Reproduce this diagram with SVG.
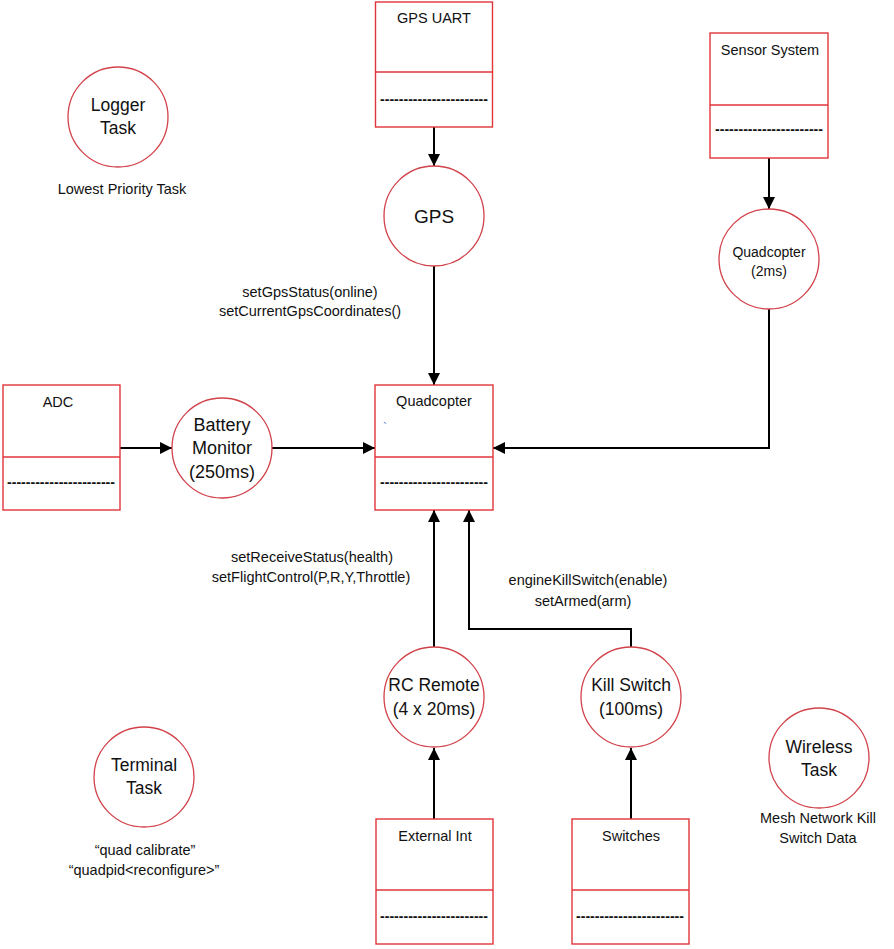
<svg xmlns="http://www.w3.org/2000/svg" width="894" height="949" viewBox="0 0 894 949">
<style>
.box{fill:#fff;stroke:#e0353a;stroke-width:1.4}
.circ{fill:#fff;stroke:#d2424a;stroke-width:1.3}
.t{font-family:"Liberation Sans",Arial,sans-serif;fill:#111;text-anchor:middle}
.bt{font-size:14.5px}
.ct{font-size:17.5px}
.lb{font-size:14.5px}
.dash{font-family:"Liberation Sans",Arial,sans-serif;font-size:15px;font-weight:bold;fill:#111}
.edge{fill:none;stroke:#000;stroke-width:2}
</style>
<defs>
<marker id="ah" markerWidth="12" markerHeight="12" viewBox="0 0 12 12" refX="12" refY="6" orient="auto" markerUnits="userSpaceOnUse">
<path d="M0,0 L12,6 L0,12 z" fill="#000"/>
</marker>
</defs>
<rect width="894" height="949" fill="#fff"/>

<g id="connectors">
<path class="edge" d="M434,127 V166" marker-end="url(#ah)"/>
<path class="edge" d="M434,266 V385" marker-end="url(#ah)"/>
<path class="edge" d="M769,158 V209" marker-end="url(#ah)"/>
<path class="edge" d="M769,309 V448 H493" marker-end="url(#ah)"/>
<path class="edge" d="M120,448 H172" marker-end="url(#ah)"/>
<path class="edge" d="M272,448 H375" marker-end="url(#ah)"/>
<path class="edge" d="M434,647 V510" marker-end="url(#ah)"/>
<path class="edge" d="M631,647 V629 H469 V510" marker-end="url(#ah)"/>
<path class="edge" d="M434,819 V748" marker-end="url(#ah)"/>
<path class="edge" d="M631,819 V748" marker-end="url(#ah)"/>
</g>

<g id="labels">
<text class="t lb" x="310" y="297">setGpsStatus(online)</text>
<text class="t lb" x="310" y="316">setCurrentGpsCoordinates()</text>
<text class="t lb" x="312" y="562">setReceiveStatus(health)</text>
<text class="t lb" x="311" y="582">setFlightControl(P,R,Y,Throttle)</text>
<text class="t lb" x="588" y="585">engineKillSwitch(enable)</text>
<text class="t lb" x="583" y="606">setArmed(arm)</text>
</g>

<g id="gps-uart">
<rect class="box" x="375.5" y="2" width="117" height="125"/>
<line x1="375.5" y1="72" x2="492.5" y2="72" stroke="#e0353a" stroke-width="1.4"/>
<text class="t bt" x="434" y="23">GPS UART</text>
<text class="dash" x="380" y="104" textLength="108" lengthAdjust="spacingAndGlyphs">-----------------------</text>
</g>

<g id="sensor-system">
<rect class="box" x="710" y="33" width="118" height="125"/>
<line x1="710" y1="105" x2="828" y2="105" stroke="#e0353a" stroke-width="1.4"/>
<text class="t bt" x="770" y="55">Sensor System</text>
<text class="dash" x="715" y="134" textLength="108" lengthAdjust="spacingAndGlyphs">-----------------------</text>
</g>

<g id="adc">
<rect class="box" x="3" y="385" width="117" height="125"/>
<line x1="3" y1="457" x2="120" y2="457" stroke="#e0353a" stroke-width="1.4"/>
<text class="t bt" x="58" y="407">ADC</text>
<text class="dash" x="7" y="487" textLength="108" lengthAdjust="spacingAndGlyphs">-----------------------</text>
</g>

<g id="quadcopter">
<rect class="box" x="375" y="385" width="118" height="125"/>
<line x1="375" y1="457" x2="493" y2="457" stroke="#e0353a" stroke-width="1.4"/>
<text class="t bt" x="434" y="406">Quadcopter</text>
<text x="383" y="432" font-family="Liberation Sans,Arial,sans-serif" font-size="12" fill="#4f86c6">`</text>
<text class="dash" x="380" y="487" textLength="108" lengthAdjust="spacingAndGlyphs">-----------------------</text>
</g>

<g id="external-int">
<rect class="box" x="376" y="819" width="117" height="125"/>
<line x1="376" y1="890" x2="493" y2="890" stroke="#e0353a" stroke-width="1.4"/>
<text class="t bt" x="435" y="841">External Int</text>
<text class="dash" x="380" y="921" textLength="108" lengthAdjust="spacingAndGlyphs">-----------------------</text>
</g>

<g id="switches">
<rect class="box" x="572" y="819" width="117" height="125"/>
<line x1="572" y1="890" x2="689" y2="890" stroke="#e0353a" stroke-width="1.4"/>
<text class="t bt" x="631" y="841">Switches</text>
<text class="dash" x="576" y="921" textLength="108" lengthAdjust="spacingAndGlyphs">-----------------------</text>
</g>

<g id="gps">
<circle class="circ" cx="434" cy="216" r="50"/>
<text class="t" font-size="19" x="434" y="223">GPS</text>
</g>

<g id="quadcopter-2ms">
<circle class="circ" cx="769" cy="259" r="50"/>
<text class="t" font-size="14" x="769" y="257">Quadcopter</text>
<text class="t" font-size="14" x="769" y="276">(2ms)</text>
</g>

<g id="battery-monitor">
<circle class="circ" cx="222" cy="448" r="50"/>
<text class="t" font-size="18" x="222" y="431">Battery</text>
<text class="t" font-size="18" x="222" y="454">Monitor</text>
<text class="t" font-size="18" x="222" y="478">(250ms)</text>
</g>

<g id="rc-remote">
<circle class="circ" cx="434" cy="697" r="50"/>
<text class="t ct" x="434" y="691">RC Remote</text>
<text class="t ct" x="434" y="715">(4 x 20ms)</text>
</g>

<g id="kill-switch">
<circle class="circ" cx="631" cy="697" r="50"/>
<text class="t ct" x="631" y="691">Kill Switch</text>
<text class="t ct" x="631" y="715">(100ms)</text>
</g>

<g id="logger-task">
<circle class="circ" cx="118" cy="117" r="50"/>
<text class="t ct" x="118" y="111">Logger</text>
<text class="t ct" x="118" y="134">Task</text>
<text class="t lb" x="122" y="194">Lowest Priority Task</text>
</g>

<g id="terminal-task">
<circle class="circ" cx="144" cy="777" r="50"/>
<text class="t ct" x="144" y="771">Terminal</text>
<text class="t ct" x="144" y="794">Task</text>
<text class="t lb" x="145" y="855">“quad calibrate”</text>
<text class="t lb" x="144" y="875">“quadpid&lt;reconfigure&gt;”</text>
</g>

<g id="wireless-task">
<circle class="circ" cx="819" cy="758" r="50"/>
<text class="t ct" x="819" y="753">Wireless</text>
<text class="t ct" x="819" y="776">Task</text>
<text class="t lb" x="818" y="823">Mesh Network Kill</text>
<text class="t lb" x="818" y="843">Switch Data</text>
</g>
</svg>
